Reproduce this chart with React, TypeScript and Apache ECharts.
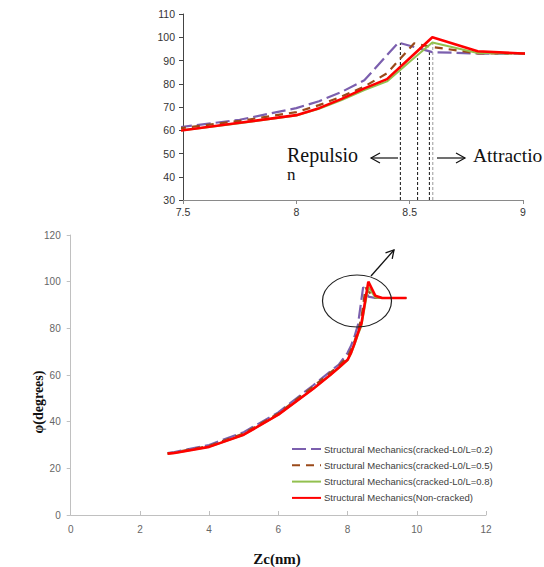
import React, { useEffect, useRef } from "react";
import * as echarts from "echarts";

// ---- data ----
const names = [
  "Structural Mechanics(cracked-L0/L=0.2)",
  "Structural Mechanics(cracked-L0/L=0.5)",
  "Structural Mechanics(cracked-L0/L=0.8)",
  "Structural Mechanics(Non-cracked)",
];

const xL02 = [2.8, 3, 4, 5, 6, 7, 7.5, 7.75, 8, 8.1, 8.2, 8.3, 8.45, 8.6, 8.8, 9, 9.7];
const yL02 = [26.5, 27, 30, 35.5, 44, 55.5, 61.5, 64.5, 69.5, 72.5, 76.5, 81.5, 97.7, 93.6, 93, 93, 93];

const xL05 = [2.8, 3, 4, 5, 6, 7, 7.5, 7.75, 8, 8.1, 8.2, 8.3, 8.4, 8.52, 8.6, 8.8, 9, 9.7];
const yL05 = [26.4, 26.8, 29.6, 35, 43.5, 55, 61, 64, 67.8, 70.8, 74.5, 78.8, 84.5, 97.4, 95.8, 93.1, 93, 93];

const xL08 = [2.8, 3, 4, 5, 6, 7, 7.5, 7.75, 8, 8.1, 8.2, 8.3, 8.4, 8.5, 8.6, 8.8, 9, 9.7];
const yL08 = [26.3, 26.6, 29.2, 34.4, 43, 54, 60, 63, 66.3, 69.2, 73, 77.3, 81, 89.5, 97.7, 93.2, 93, 93];

const xNC = [2.8, 3, 4, 5, 6, 7, 7.5, 7.75, 8, 8.1, 8.2, 8.3, 8.4, 8.5, 8.6, 8.8, 9, 9.7];
const yNC = [26.3, 26.6, 29.2, 34.4, 43, 54, 60, 63.2, 66.5, 69.5, 73.5, 78, 82, 91, 100, 94, 93, 93];

// vertical guide lines in the inset (x position, top value)
const guideX = [8.459, 8.535, 8.587, 8.602];
const guideTop = [97.6, 91, 94.5, 97.5];
const guideBottom = 30;

const colors = ["#7b5fae", "#9a4a1a", "#92c04f", "#ff0000"];
const dashes: any[] = [[14, 5], [8, 6], "solid", "solid"];
const widths = [2.2, 2.2, 2, 2.6];

const zip = (xs: number[], ys: number[]) => xs.map((x, i) => [x, ys[i]]);
const seriesData = [zip(xL02, yL02), zip(xL05, yL05), zip(xL08, yL08), zip(xNC, yNC)];

export default function App() {
  const ref = useRef<HTMLDivElement>(null);
  useEffect(() => {
    document.body.style.margin = "0";
    const chart = echarts.init(ref.current!, null, { renderer: "svg" });

    const lineSeries: any[] = [];
    [0, 1].forEach((g) => {
      seriesData.forEach((d, i) => {
        lineSeries.push({
          type: "line",
          name: names[i],
          xAxisIndex: g,
          yAxisIndex: g,
          data: d,
          symbol: "none",
          clip: true,
          z: i === 3 ? 5 : 3,
          lineStyle: { color: colors[i], width: widths[i], type: dashes[i] },
          itemStyle: { color: colors[i] },
        });
      });
    });
    guideX.forEach((x, i) => {
      lineSeries.push({
        type: "line",
        name: "guide" + i,
        xAxisIndex: 0,
        yAxisIndex: 0,
        data: [[x, guideBottom], [x, guideTop[i]]],
        symbol: "none",
        z: 2,
        lineStyle: { color: i === 3 ? "#9a9a9a" : "#111", width: 1, type: [3, 2] },
      });
    });

    const axisFont = { fontFamily: "Liberation Sans", fontSize: 10.5 };

    chart.setOption({
      animation: false,
      backgroundColor: "#ffffff",
      grid: [
        { left: 183, right: 21, top: 14, bottom: 367, containLabel: false },
        { left: 70.7, right: 58, top: 235, bottom: 52, containLabel: false },
      ],
      xAxis: [
        {
          gridIndex: 0, type: "value", min: 7.5, max: 9, interval: 0.5,
          axisLine: { lineStyle: { color: "#8a8a8a", width: 1 } },
          axisTick: { show: true, length: 4, lineStyle: { color: "#8a8a8a" } },
          axisLabel: { ...axisFont, color: "#333", margin: 6 },
          splitLine: { show: false },
        },
        {
          gridIndex: 1, type: "value", min: 0, max: 12, interval: 2,
          axisLine: { lineStyle: { color: "#c0c0c0", width: 1 } },
          axisTick: { show: true, inside: true, length: 4, lineStyle: { color: "#c0c0c0" } },
          axisLabel: { fontFamily: "Liberation Sans", fontSize: 10, color: "#666", margin: 9 },
          splitLine: { show: false },
        },
      ],
      yAxis: [
        {
          gridIndex: 0, type: "value", min: 30, max: 110, interval: 10,
          axisLine: { show: true, lineStyle: { color: "#444", width: 1 } },
          axisTick: { show: true, length: 4, lineStyle: { color: "#444" } },
          axisLabel: { ...axisFont, color: "#333", margin: 8 },
          splitLine: { show: false },
        },
        {
          gridIndex: 1, type: "value", min: 0, max: 120, interval: 20,
          axisLine: { show: true, lineStyle: { color: "#c0c0c0", width: 1 } },
          axisTick: { show: true, length: 4, lineStyle: { color: "#c0c0c0" } },
          axisLabel: { fontFamily: "Liberation Sans", fontSize: 10, color: "#666", margin: 10 },
          splitLine: { show: false },
        },
      ],
      legend: {
        data: names,
        orient: "vertical",
        left: 286,
        top: 439,
        itemWidth: 29,
        itemHeight: 12,
        itemGap: 6.3,
        selectedMode: false,
        itemStyle: { opacity: 0 },
        textStyle: { fontFamily: "Liberation Sans", fontSize: 9.5, color: "#404040", padding: [0, 0, 0, -2] },
      },
      graphic: [
        {
          type: "text", left: 287, top: 145,
          style: { text: "Repulsio", fontFamily: "Liberation Serif", fontSize: 20, fill: "#111" },
        },
        {
          type: "text", left: 287, top: 166,
          style: { text: "n", fontFamily: "Liberation Serif", fontSize: 17, fill: "#111" },
        },
        {
          type: "text", left: 473, top: 145,
          style: { text: "Attractio", fontFamily: "Liberation Serif", fontSize: 19.5, fill: "#111" },
        },
        { type: "line", shape: { x1: 371, y1: 158, x2: 398, y2: 158 }, style: { stroke: "#111", lineWidth: 1.2 } },
        { type: "polyline", shape: { points: [[380, 153], [371, 158], [380, 163]] }, style: { stroke: "#111", lineWidth: 1.2, fill: null } },
        { type: "line", shape: { x1: 437, y1: 158, x2: 465, y2: 158 }, style: { stroke: "#111", lineWidth: 1.2 } },
        { type: "polyline", shape: { points: [[456, 153], [465, 158], [456, 163]] }, style: { stroke: "#111", lineWidth: 1.2, fill: null } },
        {
          type: "ellipse", shape: { cx: 357, cy: 301, rx: 34.5, ry: 26 },
          style: { stroke: "#222", lineWidth: 1.2, fill: null }, z: 10,
        },
        { type: "line", shape: { x1: 371, y1: 276, x2: 394, y2: 250 }, style: { stroke: "#111", lineWidth: 1.3 }, z: 10 },
        { type: "polyline", shape: { points: [[385.5, 252.9], [394, 250], [392.2, 258.8]] }, style: { stroke: "#111", lineWidth: 1.3, fill: null }, z: 10 },
        {
          type: "text", x: 38, y: 402, rotation: Math.PI / 2,
          style: {
            text: "φ(degrees)", fontFamily: "Liberation Serif", fontSize: 14, fontWeight: "bold",
            fill: "#111", align: "center", verticalAlign: "middle",
          },
        },
        {
          type: "text", x: 277, y: 559,
          style: {
            text: "Zc(nm)", fontFamily: "Liberation Serif", fontSize: 15, fontWeight: "bold",
            fill: "#111", align: "center", verticalAlign: "middle",
          },
        },
      ],
      series: lineSeries,
    });
    return () => chart.dispose();
  }, []);
  return (
    <div
      ref={ref}
      style={{ position: "fixed", left: 0, top: 0, width: 544, height: 567, background: "#fff" }}
    />
  );
}
